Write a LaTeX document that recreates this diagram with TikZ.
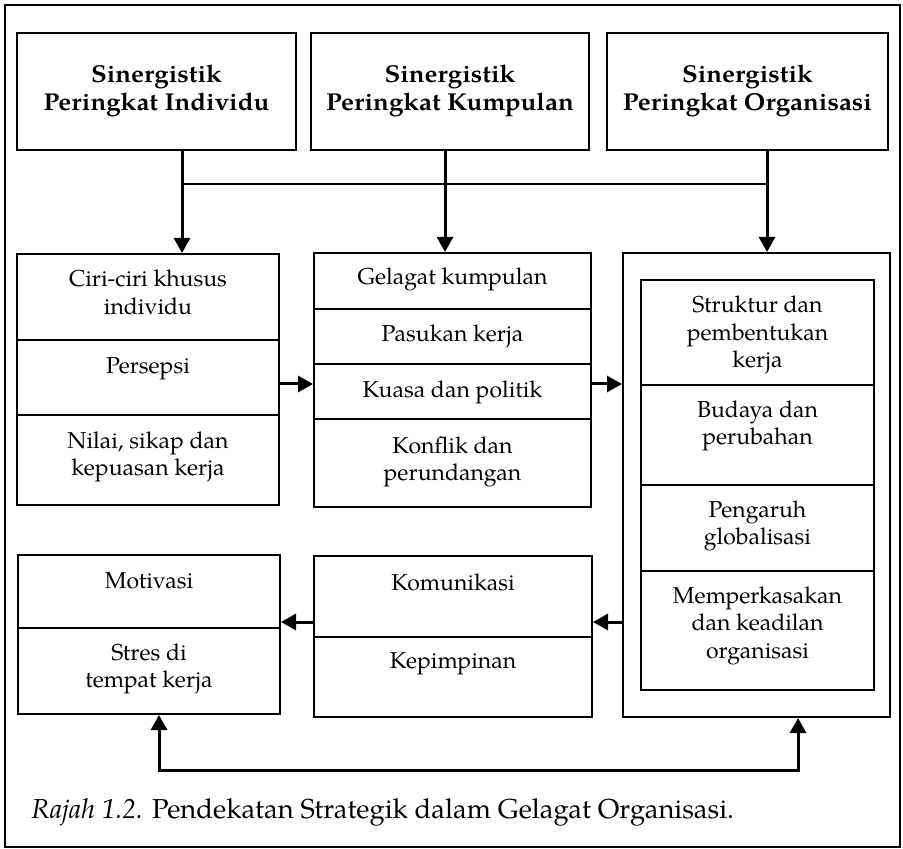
\documentclass[tikz,border=0pt]{standalone}
\usepackage{fontspec}
\setmainfont{texgyrepagella}[Extension=.otf, UprightFont=*-regular, BoldFont=*-bold, ItalicFont=*-italic, BoldItalicFont=*-bolditalic]
\newfontfamily\headfont{texgyrepagella}[Extension=.otf, UprightFont=*-bold, FakeStretch=1.06]
\usetikzlibrary{arrows.meta,fit}
\newcommand{\celltext}[1]{\parbox[t]{70mm}{\centering #1}}
\begin{document}
\begin{tikzpicture}[x=0.5pt,y=-0.5pt,
  cell/.style={draw, line width=1pt, inner sep=0pt},
  txt/.style={anchor=base, inner sep=0pt, font=\fontsize{11.5pt}{13.75pt}\selectfont},
  bold txt/.style={txt, font=\fontsize{12.2pt}{13.75pt}\headfont},
  conn/.style={line width=1.5pt, -{Triangle[length=7.5pt,width=8pt]}},
  both conn/.style={line width=1.5pt, {Triangle[length=7.5pt,width=8pt]}-{Triangle[length=7.5pt,width=8pt]}},
  plain conn/.style={line width=1pt},
  frame/.style={draw, line width=1pt}
]
\useasboundingbox (0,0) rectangle (903,849);
\draw[frame] (5,5) rectangle (900,847);

% top boxes
\node[cell, fit={(17,33) (296,150)}] (T1) {};
\node[cell, fit={(311,33) (589,150)}] (T2) {};
\node[cell, fit={(607,33) (888,150)}] (T3) {};
\node[bold txt] (t1) at (156.5,83) {\celltext{Sinergistik\\Peringkat Individu}};
\node[bold txt] (t2) at (450,83) {\celltext{Sinergistik\\Peringkat Kumpulan}};
\node[bold txt] (t3) at (747.5,83) {\celltext{Sinergistik\\Peringkat Organisasi}};

% left middle box
\node[cell, fit={(17,254) (279,340)}] (L1) {};
\node[cell, fit={(17,340) (279,415)}] (L2) {};
\node[cell, fit={(17,415) (279,505)}] (L3) {};
\node[txt] (l1) at (148,287) {\celltext{Ciri-ciri khusus\\individu}};
\node[txt] (l2) at (148,373) {\celltext{Persepsi}};
\node[txt] (l3) at (148,448) {\celltext{Nilai, sikap dan\\kepuasan kerja}};

% middle box
\node[cell, fit={(314,253) (591,309)}] (M1) {};
\node[cell, fit={(314,309) (591,364)}] (M2) {};
\node[cell, fit={(314,364) (591,419)}] (M3) {};
\node[cell, fit={(314,419) (591,507)}] (M4) {};
\node[txt] (m1) at (452.5,285) {\celltext{Gelagat kumpulan}};
\node[txt] (m2) at (452.5,342) {\celltext{Pasukan kerja}};
\node[txt] (m3) at (452.5,397) {\celltext{Kuasa dan politik}};
\node[txt] (m4) at (452.5,453) {\celltext{Konflik dan\\perundangan}};

% right column
\node[cell, fit={(623,253) (890,717)}] (R) {};
\node[cell, fit={(641,280) (874,385)}] (R1) {};
\node[cell, fit={(641,385) (874,485)}] (R2) {};
\node[cell, fit={(641,485) (874,571)}] (R3) {};
\node[cell, fit={(641,571) (874,690)}] (R4) {};
\node[txt] (r1) at (757.5,313) {\celltext{Struktur dan\\pembentukan\\kerja}};
\node[txt] (r2) at (757.5,417) {\celltext{Budaya dan\\perubahan}};
\node[txt] (r3) at (757.5,517) {\celltext{Pengaruh\\globalisasi}};
\node[txt] (r4) at (757.5,603) {\celltext{Memperkasakan\\dan keadilan\\organisasi}};

% bottom boxes
\node[cell, fit={(18,555) (280,628)}] (B1a) {};
\node[cell, fit={(18,628) (280,714)}] (B1b) {};
\node[cell, fit={(314,556) (592,637)}] (B2a) {};
\node[cell, fit={(314,637) (592,717)}] (B2b) {};
\node[txt] (b1a) at (149,588) {\celltext{Motivasi}};
\node[txt] (b1b) at (149,660) {\celltext{Stres di\\tempat kerja}};
\node[txt] (b2a) at (453,590) {\celltext{Komunikasi}};
\node[txt] (b2b) at (453,668) {\celltext{Kepimpinan}};

% connectors
\coordinate (j1) at (182,184);
\coordinate (j2) at (445,184);
\coordinate (j3) at (767,184);
\draw[plain conn] (j1) -- (j3);
\draw[conn] (T1.south -| j1) -- (L1.north -| j1);
\draw[conn] (T2.south -| j2) -- (M1.north -| j2);
\draw[conn] (T3.south -| j3) -- (R.north -| j3);

\coordinate (h1) at (0,384);
\coordinate (h2) at (0,622);
\draw[conn] (L2.east |- h1) -- (M3.west |- h1);
\draw[conn] (M3.east |- h1) -- (R.west |- h1);
\draw[conn] (R.west |- h2) -- (B2a.east |- h2);
\draw[conn] (B2a.west |- h2) -- (B1a.east |- h2);

\coordinate (bl) at (159,770);
\coordinate (br) at (798,770);
\draw[both conn] (B1b.south -| bl) -- (bl) -- (br) -- (R.south -| br);

% caption
\node[anchor=base west, inner sep=0pt, font=\fontsize{13.7pt}{16pt}\selectfont] (cap) at (31,818)
  {\textit{Rajah 1.2.} Pendekatan Strategik dalam Gelagat Organisasi.};
\end{tikzpicture}
\end{document}
